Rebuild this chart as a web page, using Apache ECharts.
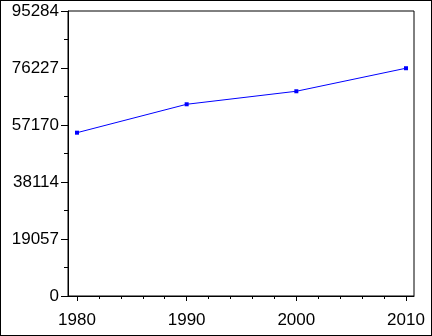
<!DOCTYPE html>
<html><head><meta charset="utf-8">
<script src="https://cdn.jsdelivr.net/npm/echarts@6/dist/echarts.min.js"></script>
<style>html,body{margin:0;padding:0;background:#fff}#c{width:432px;height:336px;box-sizing:border-box;border:1px solid #000}</style>
</head><body><div id="c"></div>
<script>
var years = [1980, 1990, 2000, 2010];
var values = [54600, 64100, 68450, 76150];
var xTickLabels = [1980, 1990, 2000, 2010];
var xMinorTicks = [1980,1982,1984,1986,1988,1990,1992,1994,1996,1998,2000,2002,2004,2006,2008,2010];
var yTickLabels = [0, 19057, 38114, 57170, 76227, 95284];

var yMinor = [];
for (var i = 0; i < yTickLabels.length - 1; i++) yMinor.push((yTickLabels[i] + yTickLabels[i+1]) / 2);
var font = {fontFamily: 'Liberation Sans, Arial, sans-serif', fontSize: 17, color: '#000'};
var chart = echarts.init(document.getElementById('c'), null, {renderer: 'canvas'});
chart.setOption({
  animation: false,
  grid: {left: 67, top: 10, right: 17, bottom: 39, show: true, borderColor: '#000', borderWidth: 1},
  xAxis: [{
    type: 'value', min: 1979.18, max: 2010.73, position: 'bottom',
    axisLine: {show: true, lineStyle: {color: '#000'}},
    axisTick: {show: true, customValues: xMinorTicks, length: 3, lineStyle: {color: '#000'}},
    axisLabel: Object.assign({customValues: xTickLabels, margin: 16, formatter: function(v){return String(Math.round(v));}}, font),
    splitLine: {show: false}
  }, {
    type: 'value', min: 1979.18, max: 2010.73, position: 'bottom', gridIndex: 0,
    axisLine: {show: false},
    axisTick: {show: true, customValues: xTickLabels, length: 5, lineStyle: {color: '#000'}},
    axisLabel: {show: false},
    splitLine: {show: false}
  }],
  yAxis: [{
    type: 'value', min: 0, max: 95284,
    axisLine: {show: true, lineStyle: {color: '#000'}},
    axisTick: {show: true, customValues: yTickLabels, length: 7, lineStyle: {color: '#000'}},
    axisLabel: Object.assign({customValues: yTickLabels, margin: 9, formatter: function(v){return String(Math.round(v));}}, font),
    splitLine: {show: false}
  }, {
    type: 'value', min: 0, max: 95284, position: 'left',
    axisLine: {show: false},
    axisTick: {show: true, customValues: yMinor, length: 4, lineStyle: {color: '#000'}},
    axisLabel: {show: false},
    splitLine: {show: false}
  }],
  series: [{
    type: 'line',
    data: years.map(function(y, i){return [y, values[i]];}),
    symbol: 'rect', symbolSize: 4,
    itemStyle: {color: '#0000ff'},
    lineStyle: {color: '#0000ff', width: 1}
  }]
});
</script></body></html>
